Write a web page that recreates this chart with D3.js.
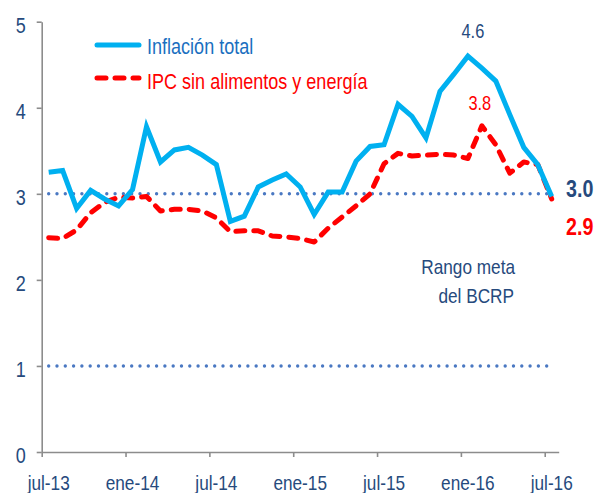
<!DOCTYPE html>
<html><head><meta charset="utf-8">
<script src="https://cdn.jsdelivr.net/npm/d3@7"></script>
<style>
html,body{margin:0;padding:0;background:#fff;}
svg{display:block;}
text{font-family:"Liberation Sans Narrow","Arial Narrow","Liberation Sans",Arial,sans-serif;}
</style></head>
<body>
<svg id="chart" width="595" height="493"></svg>
<script>
const months = ["jul-13","ago-13","sep-13","oct-13","nov-13","dic-13",
  "ene-14","feb-14","mar-14","abr-14","may-14","jun-14",
  "jul-14","ago-14","sep-14","oct-14","nov-14","dic-14",
  "ene-15","feb-15","mar-15","abr-15","may-15","jun-15",
  "jul-15","ago-15","sep-15","oct-15","nov-15","dic-15",
  "ene-16","feb-16","mar-16","abr-16","may-16","jun-16","jul-16"];
const inflacionTotal = [3.25,3.27,2.83,3.04,2.94,2.86,3.05,3.78,3.37,3.51,3.54,3.45,
  3.34,2.68,2.74,3.08,3.16,3.23,3.08,2.76,3.02,3.02,3.38,3.55,
  3.57,4.04,3.90,3.65,4.19,4.39,4.60,4.46,4.31,3.92,3.54,3.34,2.97];
const ipcSinAlimentos = [2.49,2.48,2.58,2.78,2.90,2.96,2.95,2.97,2.80,2.82,2.82,2.80,
  2.72,2.56,2.57,2.57,2.51,2.50,2.48,2.44,2.60,2.73,2.86,3.00,
  3.35,3.47,3.44,3.45,3.46,3.45,3.41,3.79,3.57,3.24,3.37,3.34,2.94];
const xTickLabels = ["jul-13","ene-14","jul-14","ene-15","jul-15","ene-16","jul-16"];
const yTicks = [0,1,2,3,4,5];
const targetRange = [1,3];
const seriesNames = ["Inflación total","IPC sin alimentos y energía"];

const svg = d3.select("#chart");
const mLeft = 41.7, mRight = 558.7, mTop = 21.7, mBottom = 452;
const x = d3.scaleBand().domain(months).range([mLeft, mRight]).padding(0);
const y = d3.scaleLinear().domain([0,5]).range([mBottom, mTop]);
const bw = x.bandwidth();
const cx = m => x(m) + bw/2;

const axisColor = "#8c8c8c";
const labelColor = "#264a7d";
const NARROW = 0.82;
const fmt1 = d3.format(".1f");

// helper: condensed text placed at (px,py)
function addText(parent, px, py, str, opts) {
  const t = parent.append("text")
    .attr("transform", `translate(${px},${py}) scale(${NARROW},1)`)
    .attr("x", 0).attr("y", 0)
    .attr("text-anchor", opts.anchor || "start")
    .attr("fill", opts.fill).attr("font-size", opts.size)
    .attr("font-weight", opts.weight || "normal")
    .text(str);
  return t;
}

// target range dotted lines
svg.selectAll("line.target").data(targetRange).enter().append("line")
  .attr("class","target")
  .attr("x1", cx(months[0])).attr("x2", cx(months[months.length-1]) + 1)
  .attr("y1", d => y(d)).attr("y2", d => y(d))
  .attr("stroke", "#4a78c2").attr("stroke-width", 3.4)
  .attr("stroke-linecap", "round").attr("stroke-dasharray", "0,8.3");

// y axis
const yAxis = svg.append("g").attr("transform", `translate(${mLeft},0)`)
  .call(d3.axisLeft(y).tickValues(yTicks).tickFormat(d3.format("d")).tickSize(5).tickSizeOuter(0).tickPadding(16));
yAxis.select(".domain").attr("stroke", axisColor).attr("stroke-width", 1.6);
yAxis.selectAll(".tick line").attr("stroke", axisColor).attr("stroke-width", 1.6);
yAxis.selectAll(".tick text").attr("fill", labelColor).attr("font-size", 22)
  .attr("x", -16 / NARROW).attr("transform", `scale(${NARROW},1)`).attr("dy", "0.48em");

// x axis: tick marks at category boundaries
const tickScale = d3.scaleLinear().domain([0, months.length]).range([mLeft, mRight]);
const xTickIdx = xTickLabels.map(l => months.indexOf(l));
const xTicksG = svg.append("g").attr("transform", `translate(0,${mBottom})`)
  .call(d3.axisBottom(tickScale).tickValues(xTickIdx).tickFormat("").tickSize(5).tickSizeOuter(0));
xTicksG.select(".domain").attr("stroke", axisColor).attr("stroke-width", 1.6);
xTicksG.selectAll(".tick line").attr("stroke", axisColor).attr("stroke-width", 1.6);

// x axis labels centered on categories
const xLab = svg.append("g").attr("transform", `translate(0,${mBottom})`)
  .call(d3.axisBottom(x).tickValues(xTickLabels).tickSize(0).tickPadding(23));
xLab.select(".domain").remove();
xLab.selectAll(".tick text").attr("fill", labelColor).attr("font-size", 21)
  .attr("transform", `scale(${NARROW},1)`);

// lines
const line = d3.line().x((d,i) => cx(months[i])).y(d => y(d));
svg.append("path").datum(ipcSinAlimentos).attr("d", line)
  .attr("fill","none").attr("stroke","#ff0000").attr("stroke-width",5)
  .attr("stroke-dasharray","9,9").attr("stroke-linecap","round").attr("stroke-linejoin","round");
svg.append("path").datum(inflacionTotal).attr("d", line)
  .attr("fill","none").attr("stroke","#00b0f0").attr("stroke-width",5)
  .attr("stroke-linejoin","miter");

// legend
const lg = svg.append("g");
lg.append("line").attr("x1",97).attr("x2",139).attr("y1",45).attr("y2",45)
  .attr("stroke","#00b0f0").attr("stroke-width",5).attr("stroke-linecap","round");
addText(lg, 147, 54, seriesNames[0], {fill:"#1a6fc0", size:22});
lg.append("line").attr("x1",97).attr("x2",139).attr("y1",78).attr("y2",78)
  .attr("stroke","#ff0000").attr("stroke-width",5).attr("stroke-linecap","round")
  .attr("stroke-dasharray","9,9");
addText(lg, 147, 89, seriesNames[1], {fill:"#ff0000", size:22});

// annotations
const maxI = inflacionTotal.indexOf(d3.max(inflacionTotal));
addText(svg, cx(months[maxI]) + 5, 38, fmt1(inflacionTotal[maxI]), {fill:labelColor, size:20, anchor:"middle"});
const maxR = ipcSinAlimentos.indexOf(d3.max(ipcSinAlimentos));
addText(svg, cx(months[maxR]) - 2, 110, fmt1(ipcSinAlimentos[maxR]), {fill:"#ff0000", size:20, anchor:"middle"});
const last = months.length - 1;
const trunc1 = v => (Math.floor(v * 10 + 1e-9) / 10).toFixed(1);
addText(svg, 566, 197, fmt1(inflacionTotal[last]), {fill:labelColor, size:24, weight:"bold"});
addText(svg, 566, 235, trunc1(ipcSinAlimentos[last]), {fill:"#ff0000", size:24, weight:"bold"});

// target range label
addText(svg, 515, 274, "Rango meta", {fill:labelColor, size:21, anchor:"end"});
addText(svg, 514, 303, "del BCRP", {fill:labelColor, size:21, anchor:"end"});
</script>
</body></html>
